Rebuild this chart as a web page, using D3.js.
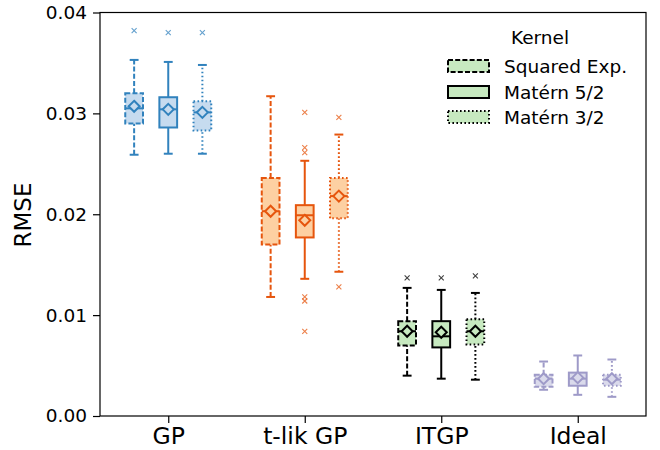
<!DOCTYPE html>
<html>
<head>
<meta charset="utf-8">
<script src="https://cdn.jsdelivr.net/npm/d3@7/dist/d3.min.js"></script>
<style>
  html, body { margin: 0; padding: 0; background: #fff; }
  svg { display: block; font-family: "DejaVu Sans", sans-serif; }
</style>
</head>
<body>
<svg id="chart" width="660" height="450"></svg>
<script>
// ---- data (rows: categories, columns: kernels) ----
const categories = ["GP", "t-lik GP", "ITGP", "Ideal"];
const kernels = ["Squared Exp.", "Matérn 5/2", "Matérn 3/2"];
const whiskerLow = [
  [0.0259, 0.0260, 0.0260],
  [0.0118, 0.0136, 0.0143],
  [0.0040, 0.0037, 0.0036],
  [0.0026, 0.0021, 0.0019]
];
const q1 = [
  [0.0290, 0.0286, 0.0283],
  [0.0170, 0.0177, 0.0196],
  [0.0070, 0.0068, 0.0071],
  [0.0029, 0.0030, 0.0030]
];
const medians = [
  [0.0305, 0.0304, 0.0301],
  [0.0203, 0.0199, 0.0218],
  [0.0084, 0.0079, 0.0084],
  [0.0037, 0.0037, 0.0036]
];
const q3 = [
  [0.0320, 0.0316, 0.0312],
  [0.0236, 0.0209, 0.0236],
  [0.0094, 0.0094, 0.0096],
  [0.0041, 0.0043, 0.0041]
];
const whiskerHigh = [
  [0.0353, 0.0351, 0.0348],
  [0.0317, 0.0253, 0.0279],
  [0.0127, 0.0125, 0.0122],
  [0.0054, 0.0060, 0.0056]
];
const means = [
  [0.0307, 0.0304, 0.0301],
  [0.0203, 0.0194, 0.0218],
  [0.0084, 0.0083, 0.0084],
  [0.0037, 0.0038, 0.0037]
];
const outliers = [
  [[0.0382], [0.0380], [0.0380]],
  [[], [0.0301, 0.0266, 0.0261, 0.0118, 0.0114, 0.0084], [0.0296, 0.0128]],
  [[0.0137], [0.0137], [0.0139]],
  [[], [], []]
];
const yTicks = [0.00, 0.01, 0.02, 0.03, 0.04];
const edgeColors = ["#3182bd", "#e6550d", "#000000", "#9e9ac8"];
const faceColors = ["#c6dbef", "#fdd0a2", "#c7e9c0", "#dadaeb"];
const kernelDash = ["5,2.2", null, "1.6,2.4"];
const kernelOffsets = [-0.25, 0, 0.25];

// ---- layout ----
const svg = d3.select("#chart");
const mLeft = 100, mRight = 646, mTop = 12.5, mBottom = 416;
const x = d3.scaleLinear().domain([0.5, 4.5]).range([mLeft, mRight]);
const y = d3.scaleLinear().domain([0, 0.04]).range([mBottom, mTop]);
const boxW = x(0.13) - x(0);
const capW = boxW / 2;
const lw = 2;

// boxes
const g = svg.append("g");
categories.forEach((cat, ci) => {
  kernels.forEach((k, ki) => {
    const cx = x(ci + 1 + kernelOffsets[ki]);
    const ec = edgeColors[ci], fc = faceColors[ci];
    const dash = kernelDash[ki];
    const bg = g.append("g");
    // whiskers
    [[whiskerLow[ci][ki], q1[ci][ki]], [q3[ci][ki], whiskerHigh[ci][ki]]].forEach(([a, b]) => {
      bg.append("line").attr("x1", cx).attr("x2", cx).attr("y1", y(a)).attr("y2", y(b))
        .attr("stroke", ec).attr("stroke-width", lw).attr("stroke-dasharray", dash);
    });
    // caps
    [whiskerLow[ci][ki], whiskerHigh[ci][ki]].forEach(v => {
      bg.append("line").attr("x1", cx - capW / 2).attr("x2", cx + capW / 2)
        .attr("y1", y(v)).attr("y2", y(v)).attr("stroke", ec).attr("stroke-width", lw);
    });
    // box
    bg.append("rect").attr("x", cx - boxW / 2).attr("width", boxW)
      .attr("y", y(q3[ci][ki])).attr("height", y(q1[ci][ki]) - y(q3[ci][ki]))
      .attr("fill", fc).attr("stroke", ec).attr("stroke-width", lw)
      .attr("stroke-dasharray", dash);
    // median
    bg.append("line").attr("x1", cx - boxW / 2).attr("x2", cx + boxW / 2)
      .attr("y1", y(medians[ci][ki])).attr("y2", y(medians[ci][ki]))
      .attr("stroke", ec).attr("stroke-width", lw);
    // mean diamond
    const my = y(means[ci][ki]), r = 5.5;
    bg.append("path").attr("d", `M${cx},${my - r}L${cx + r},${my}L${cx},${my + r}L${cx - r},${my}Z`)
      .attr("fill", fc).attr("stroke", ec).attr("stroke-width", lw);
    // outliers
    outliers[ci][ki].forEach(v => {
      const oy = y(v), s = 2.5;
      bg.append("path").attr("d", `M${cx - s},${oy - s}L${cx + s},${oy + s}M${cx - s},${oy + s}L${cx + s},${oy - s}`)
        .attr("stroke", ec).attr("stroke-width", 1.1).attr("opacity", 0.75).attr("fill", "none");
    });
  });
});

// frame
svg.append("rect").attr("x", mLeft).attr("y", mTop).attr("width", mRight - mLeft).attr("height", mBottom - mTop)
  .attr("fill", "none").attr("stroke", "#000").attr("stroke-width", 1.2);

// y axis
const yAxis = svg.append("g").attr("transform", `translate(${mLeft},0)`)
  .call(d3.axisLeft(y).tickValues(yTicks).tickFormat(d3.format(".2f")).tickSize(7).tickPadding(6));
yAxis.select(".domain").remove();
yAxis.selectAll("text").attr("font-size", 18.5).attr("font-family", "DejaVu Sans").attr("fill", "#000");
yAxis.selectAll("line").attr("stroke", "#000").attr("stroke-width", 1.2);

// x axis
const xAxis = svg.append("g").attr("transform", `translate(0,${mBottom})`)
  .call(d3.axisBottom(x).tickValues(d3.range(1, categories.length + 1))
    .tickFormat(d => categories[d - 1]).tickSize(7).tickPadding(4));
xAxis.select(".domain").remove();
xAxis.selectAll("text").attr("font-size", 23.5).attr("font-family", "DejaVu Sans").attr("fill", "#000");
xAxis.selectAll("line").attr("stroke", "#000").attr("stroke-width", 1.2);

// y label
svg.append("text").attr("transform", "translate(31,215) rotate(-90)")
  .attr("text-anchor", "middle").attr("font-size", 23).attr("fill", "#000").text("RMSE");

// legend
const lg = svg.append("g");
lg.append("text").attr("x", 540).attr("y", 44).attr("text-anchor", "middle")
  .attr("font-size", 18.5).attr("fill", "#000").text("Kernel");
const rowY = [66, 92, 117];
kernels.forEach((k, ki) => {
  lg.append("rect").attr("x", 448).attr("y", rowY[ki] - 6).attr("width", 41).attr("height", 12)
    .attr("fill", faceColors[2]).attr("stroke", "#000").attr("stroke-width", 2)
    .attr("stroke-dasharray", kernelDash[ki]);
  lg.append("text").attr("x", 504).attr("y", rowY[ki] + 6.5).attr("font-size", 18.5)
    .attr("fill", "#000").text(k);
});
</script>
</body>
</html>
